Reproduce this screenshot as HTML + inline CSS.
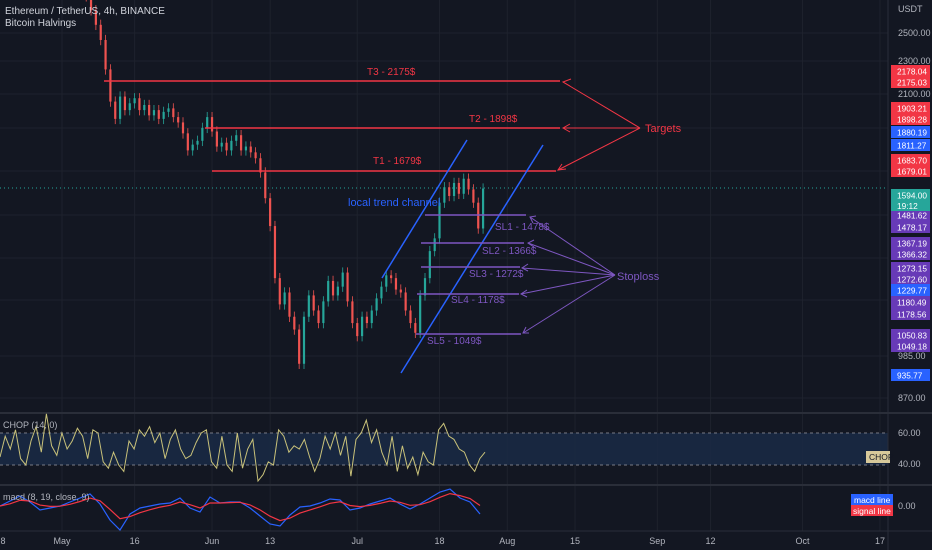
<!DOCTYPE html>
<html><head><meta charset="utf-8"><style>
html,body{margin:0;padding:0;background:#131722;}
svg{display:block;font-family:"Liberation Sans",sans-serif;}
</style></head><body>
<svg id="c" width="932" height="550" viewBox="0 0 932 550">
<rect x="0" y="0" width="932" height="550" fill="#131722"/>
<g id="grid"></g>
<rect x="0" y="433" width="888" height="32" fill="#1a2a45" opacity="0.85"/>
<line x1="0" y1="433" x2="888" y2="433" stroke="#787b86" stroke-dasharray="3,3"/>
<line x1="0" y1="465" x2="888" y2="465" stroke="#787b86" stroke-dasharray="3,3"/>
<line x1="0" y1="413" x2="932" y2="413" stroke="#2a2e39" stroke-width="2"/>
<line x1="0" y1="485" x2="932" y2="485" stroke="#2a2e39" stroke-width="2"/>
<line x1="0" y1="531" x2="932" y2="531" stroke="#2a2e39" stroke-width="1"/>
<line x1="888" y1="0" x2="888" y2="550" stroke="#2a2e39" stroke-width="1"/>
<line x1="0" y1="188" x2="888" y2="188" stroke="#26a69a" stroke-dasharray="1,3"/>
<g id="candles"></g>
<g id="chop"></g>
<g id="macd"></g>

<g stroke="#f23645" stroke-width="1.5" fill="none">
<line x1="104" y1="81" x2="560" y2="81"/>
<line x1="205" y1="128" x2="560" y2="128"/>
<line x1="212" y1="171" x2="556" y2="171"/>
<line x1="640" y1="128" x2="563" y2="82" stroke-width="1"/>
<line x1="640" y1="128" x2="563" y2="128" stroke-width="1"/>
<line x1="640" y1="128" x2="558" y2="170" stroke-width="1"/>
<polyline points="571,79 563,82 570,86" stroke-width="1"/>
<polyline points="570,124 563,128 570,132" stroke-width="1"/>
<polyline points="562,164 558,170 566,169" stroke-width="1"/>
</g>
<g font-size="10" fill="#f23645">
<text x="367" y="75">T3 - 2175$</text>
<text x="469" y="122">T2 - 1898$</text>
<text x="373" y="164">T1 - 1679$</text>
<text x="645" y="132" font-size="11">Targets</text>
</g>

<g stroke="#2962ff" stroke-width="1.5">
<line x1="382" y1="278" x2="467" y2="140"/>
<line x1="401" y1="373" x2="543" y2="145"/>
</g>
<text x="348" y="206" font-size="11" fill="#2962ff">local trend channel</text>

<g stroke="#7e57c2" stroke-width="1.5" fill="none">
<line x1="425" y1="215" x2="526" y2="215"/>
<line x1="421" y1="243" x2="524" y2="243"/>
<line x1="421" y1="267" x2="520" y2="267"/>
<line x1="417" y1="294" x2="519" y2="294"/>
<line x1="416" y1="334" x2="521" y2="334"/>
<g stroke-width="1">
<line x1="615" y1="275" x2="530" y2="217"/><line x1="615" y1="275" x2="528" y2="243"/>
<line x1="615" y1="275" x2="522" y2="268"/><line x1="615" y1="275" x2="521" y2="294"/>
<line x1="615" y1="275" x2="523" y2="333"/>
<polyline points="536,216 530,217 533,223"/><polyline points="534,240 528,243 534,247"/>
<polyline points="528,264 522,268 528,271"/><polyline points="527,290 521,294 527,297"/>
<polyline points="526,327 523,333 529,333"/>
</g></g>
<g font-size="10" fill="#7e57c2">
<text x="495" y="230">SL1 - 1478$</text>
<text x="482" y="254">SL2 - 1366$</text>
<text x="469" y="277">SL3 - 1272$</text>
<text x="451" y="303">SL4 - 1178$</text>
<text x="427" y="344">SL5 - 1049$</text>
<text x="617" y="280" font-size="11">Stoploss</text>
</g>

<text x="5" y="14" font-size="10" fill="#d1d4dc">Ethereum / TetherUS, 4h, BINANCE</text>
<text x="5" y="26" font-size="10" fill="#d1d4dc">Bitcoin Halvings</text>
<text x="3" y="428" font-size="9" fill="#b2b5be">CHOP (14, 0)</text>
<text x="3" y="500" font-size="9" fill="#b2b5be">macd (8, 19, close, 9)</text>

<g id="axis" font-size="9" fill="#b2b5be"></g>
<g id="time" font-size="9" fill="#b2b5be"></g>
<rect x="866" y="451" width="24" height="12" fill="#d7c99a"/>
<text x="869" y="460" font-size="8.5" fill="#131722">CHOP</text>
<rect x="851" y="494" width="42" height="11" fill="#2962ff"/>
<text x="854" y="503" font-size="8.5" fill="#fff">macd line</text>
<rect x="851" y="505" width="42" height="11" fill="#f23645"/>
<text x="853" y="514" font-size="8.5" fill="#fff">signal line</text>
</svg>
<script>
const closes=[2850,2880,2800,2900,2820,2780,2670,2560,2450,2250,2050,1950,2080,2000,2040,2070,2000,2030,1970,2000,1950,1990,2010,1960,1930,1870,1780,1810,1830,1900,1960,1880,1800,1820,1780,1830,1860,1780,1800,1770,1740,1670,1550,1430,1230,1140,1180,1100,1060,960,1100,1170,1120,1080,1150,1220,1170,1200,1250,1150,1080,1040,1100,1080,1120,1160,1200,1240,1230,1190,1180,1120,1080,1050,1170,1230,1330,1380,1530,1600,1560,1620,1570,1640,1590,1530,1420,1594];
const chopVals=[45,58,50,62,44,40,55,64,48,72,52,46,60,50,55,63,58,44,62,60,42,38,48,40,36,55,50,62,58,64,54,60,44,56,62,50,44,46,54,60,62,42,38,58,40,36,60,38,50,56,30,34,42,40,62,58,48,52,50,56,45,36,44,58,50,60,46,58,33,56,60,68,54,62,48,40,58,36,52,38,45,34,48,42,40,62,66,58,56,50,48,40,36,44,48];
const macdVals=[0,5,10,4,-4,-2,0,4,8,12,2,-14,-24,-8,-2,0,2,3,8,-2,-6,9,3,4,4,-2,-10,-18,-20,-9,-1,0,3,7,6,-4,-2,2,5,8,2,-3,2,8,14,17,8,4,-8];
const priceTicks=[["2500.00",33],["2300.00",61],["2100.00",94],["985.00",356],["870.00",398]];
const priceTags=[["2178.04","#f23645"],["2175.03","#f23645"],["1903.21","#f23645"],["1898.28","#f23645"],["1880.19","#2962ff"],["1811.27","#2962ff"],["1683.70","#f23645"],["1679.01","#f23645"],["1594.00","#26a69a"],["1481.62","#673ab7"],["1478.17","#673ab7"],["1367.19","#673ab7"],["1366.32","#673ab7"],["1273.15","#673ab7"],["1272.60","#673ab7"],["1229.77","#2962ff"],["1180.49","#673ab7"],["1178.56","#673ab7"],["1050.83","#673ab7"],["1049.18","#673ab7"],["935.77","#2962ff"]];
const tagY=[71,82,108,119,132,145,160,171,195,215,227,243,254,268,279,290,302,314,335,346,375];
const timeLabels=["8","May","16","Jun","13","Jul","18","Aug","15","Sep","12","Oct","17"];
const timeDays=[-12.2,0,15,31,43,61,78,92,106,123,134,153,169];

const NS="http://www.w3.org/2000/svg";
function mk(t,a,p){const e=document.createElementNS(NS,t);for(const k in a)e.setAttribute(k,a[k]);p.appendChild(e);return e;}
const yP=p=>33+Math.log(2500/p)*345.6;
const xD=d=>62+4.84*d;
const grid=document.getElementById('grid');
timeDays.slice(1).forEach(d=>{const l=mk('line',{x1:xD(d),x2:xD(d),y1:0,y2:531,stroke:'#1e222d'},grid);

});
[33,61,94,128,171,215,258,300,356,398].forEach(y=>{const l=mk('line',{x1:0,x2:888,y1:y,y2:y,stroke:'#1e222d'},grid);

});

const cg=document.getElementById('candles');
closes.forEach((c,i)=>{const o=i?closes[i-1]:c*1.01;const hi=Math.max(o,c)*1.015,lo=Math.min(o,c)*0.985;
const col=c>=o?'#26a69a':'#ef5350';const x=xD(i);
const w=mk('line',{x1:x,x2:x,y1:yP(hi),y2:yP(lo),stroke:col,'stroke-width':0.8},cg);


const b=mk('rect',{x:x-1.1,y:yP(Math.max(o,c)),width:2.2,height:Math.max(1,Math.abs(yP(o)-yP(c))),fill:col},cg);

});

const chg=document.getElementById('chop');const cs=485/(chopVals.length-1);
const cp=mk('polyline',{points:chopVals.map((v,i)=>(i*cs).toFixed(1)+','+(433-(v-60)*1.6).toFixed(1)).join(' '),fill:'none',stroke:'#c9c27a','stroke-width':1},chg);



const mg=document.getElementById('macd');const ms=10;
const sig=[];let e=macdVals[0];macdVals.forEach(v=>{e=e+(v-e)*0.45;sig.push(e);});
const ml=mk('polyline',{points:macdVals.map((v,i)=>i*ms+','+(506-v)).join(' '),fill:'none',stroke:'#2962ff','stroke-width':1.2},mg);


const sl=mk('polyline',{points:sig.map((v,i)=>i*ms+','+(506-v).toFixed(1)).join(' '),fill:'none',stroke:'#f23645','stroke-width':1.2},mg);



const ax=document.getElementById('axis');
const u=mk('text',{x:898,y:12},ax);u.textContent='USDT';


priceTicks.forEach(t=>{const tx=mk('text',{x:898,y:t[1]+3},ax);tx.textContent=t[0];

});
[["60.00",436],["40.00",467],["0.00",509]].forEach(t=>{const tx=mk('text',{x:898,y:t[1]},ax);tx.textContent=t[0];

});
priceTags.forEach((t,i)=>{const y=tagY[i];const r=mk('rect',{x:891,y:y-6,width:39,height:12,fill:t[1]},ax);


const tx=mk('text',{x:897,y:y+3.5,fill:'#fff','font-size':8.3},ax);tx.textContent=t[0];

});
const cd=mk('rect',{x:891,y:200,width:39,height:11,fill:'#26a69a'},ax);


const ct=mk('text',{x:897,y:209,fill:'#fff','font-size':8.3},ax);ct.textContent='19:12';



const tg=document.getElementById('time');
timeLabels.forEach((l,i)=>{const tx=mk('text',{x:Math.max(3,xD(timeDays[i])),y:544,'text-anchor':'middle'},tg);tx.textContent=l;

});
</script>
</body></html>
